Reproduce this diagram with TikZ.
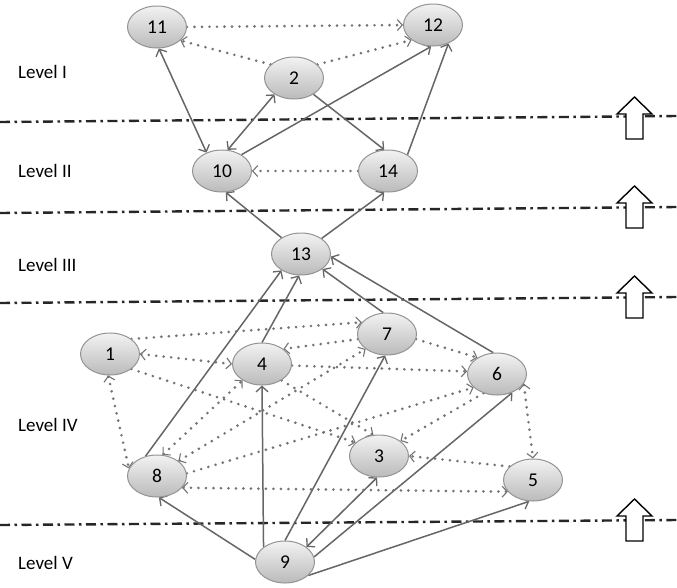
\documentclass[tikz,border=0pt]{standalone}
\usepackage{fontspec}
\setmainfont{Carlito}
\usetikzlibrary{arrows.meta,shapes.geometric}
\pgfdeclarelayer{bg}
\pgfsetlayers{bg,main}
\begin{document}
\begin{tikzpicture}[x=1pt,y=-1pt,
  vtx/.style={ellipse, draw=black!42, line width=1pt, top color=black!5, bottom color=black!27,
    minimum width=59pt, minimum height=42pt, inner sep=0pt, font=\fontsize{19.5}{22}\selectfont},
  lab/.style={anchor=west, inner sep=0pt, font=\fontsize{19}{22}\selectfont},
  sol/.style={draw=black!60, line width=1.5pt},
  dot/.style={draw=black!55, line width=2.9pt, line cap=round, dash pattern=on 0pt off 7.5pt},
  stip/.tip={Straight Barb[length=5.5pt,width=12pt,line width=1.3pt]},
  dtip/.tip={Straight Barb[length=5pt,width=11pt,line width=1.1pt]},
  arr/.style={-{stip}},
  biarr/.style={{stip}-{stip}},
  arrd/.style={-{dtip}},
  biarrd/.style={{dtip}-{dtip}},
  lvl/.style={draw=black!85, line width=2.4pt, dash pattern=on 10pt off 4.5pt on 2.5pt off 4.5pt},
  blk/.style={draw=black, fill=white, line width=1.4pt, line join=miter},
  uparr/.pic={\draw[blk] (0,0) -- (17.5,17) -- (8.5,17) -- (8.5,42) -- (-8.5,42) -- (-8.5,17) -- (-17.5,17) -- cycle;}
]
\useasboundingbox (0,0) rectangle (677,587);

% nodes
\node[vtx] (n11) at (157,27) {11};
\node[vtx] (n12) at (433,25) {12};
\node[vtx] (n2) at (294,78) {2};
\node[vtx] (n10) at (222,171) {10};
\node[vtx] (n14) at (388,171) {14};
\node[vtx] (n13) at (301,254) {13};
\node[vtx] (n1) at (110,354) {1};
\node[vtx] (n4) at (262,364) {4};
\node[vtx] (n7) at (387,334) {7};
\node[vtx] (n6) at (497,374) {6};
\node[vtx] (n3) at (379,456) {3};
\node[vtx] (n8) at (157,476) {8};
\node[vtx] (n5) at (533,480) {5};
\node[vtx] (n9) at (285,562) {9};

% level labels
\node[lab] (lv1) at (18,72) {Level I};
\node[lab] (lv2) at (18,171) {Level II};
\node[lab] (lv3) at (18,265) {Level III};
\node[lab] (lv4) at (18,425) {Level IV};
\node[lab] (lv5) at (18,563) {Level V};

\begin{pgfonlayer}{bg}
\fill[white] (0,0) rectangle (677,587);
% level separators
\coordinate (a1) at (0,122); \coordinate (b1) at (677,116);
\coordinate (a2) at (0,213); \coordinate (b2) at (677,207);
\coordinate (a3) at (0,303); \coordinate (b3) at (677,297);
\coordinate (a4) at (0,525); \coordinate (b4) at (677,520);
\draw[lvl] (a1) -- (b1);
\draw[lvl] (a2) -- (b2);
\draw[lvl] (a3) -- (b3);
\draw[lvl] (a4) -- (b4);
\pic at (634.5,97) {uparr};
\pic at (634.5,186) {uparr};
\pic at (634.5,276) {uparr};
\pic at (634.5,499) {uparr};

% solid connectors
\draw[sol,biarr] (n11.-85) -- (n10.130);
\draw[sol,biarr] (n2.-140) -- (n10.75);
\draw[sol,arr] (n2.-40) -- (n14.100);
\draw[sol,arr] (n10.40) -- (n12.-95);
\draw[sol,arr] (n14.40) -- (n12.-50);
\draw[sol,arr] (n13.140) -- (n10.-80);
\draw[sol,arr] (n13.37) -- (n14.-100);
\draw[sol,arr] (n8.120) -- (n13.-140);
\draw[sol,arr] (n4.90) -- (n13.-95);
\draw[sol,arr] (n7.100) -- (n13.-35);
\draw[sol,arr] (n6.100) -- (n13.-5);
\draw[sol,arr] (n9.175) -- (n8.-85);
\draw[sol,arr] (n9.145) -- (n4.-90);
\draw[sol,arr] (n9.90) -- (n7.-95);
\draw[sol,biarr] (n9.35) -- (n3.-95);
\draw[sol,arr] (n9.10) -- (n6.-50);
\draw[sol,arr] (n9.-30) -- (n5.-100);

% dotted connectors
\draw[dot,arrd] (n11.east) -- (n12.west);
\draw[dot,arrd] (n2.150) -- (n11.-30);
\draw[dot,arrd] (n2.30) -- (n12.-145);
\draw[dot,arrd] (n14.180) -- (n10.0);
\draw[dot,arrd] (n1.35) -- (n7.155);
\draw[dot,biarrd] (n1.0) -- (n4.180);
\draw[dot,arrd] (n1.-35) -- (n3.150);
\draw[dot,biarrd] (n1.-95) -- (n8.165);
\draw[dot,arrd] (n7.190) -- (n4.35);
\draw[dot,arrd] (n7.-10) -- (n6.140);
\draw[dot,biarrd] (n8.35) -- (n7.-145);
\draw[dot,biarrd] (n8.75) -- (n4.-140);
\draw[dot,arrd] (n8.5) -- (n6.-150);
\draw[dot,biarrd] (n8.-25) -- (n5.-155);
\draw[dot,arrd] (n4.-3) -- (n6.175);
\draw[dot,arrd] (n4.-40) -- (n3.105);
\draw[dot,arrd] (n6.-125) -- (n3.35);
\draw[dot,biarrd] (n6.-20) -- (n5.90);
\draw[dot,arrd] (n5.150) -- (n3.0);
\end{pgfonlayer}
\end{tikzpicture}
\end{document}
